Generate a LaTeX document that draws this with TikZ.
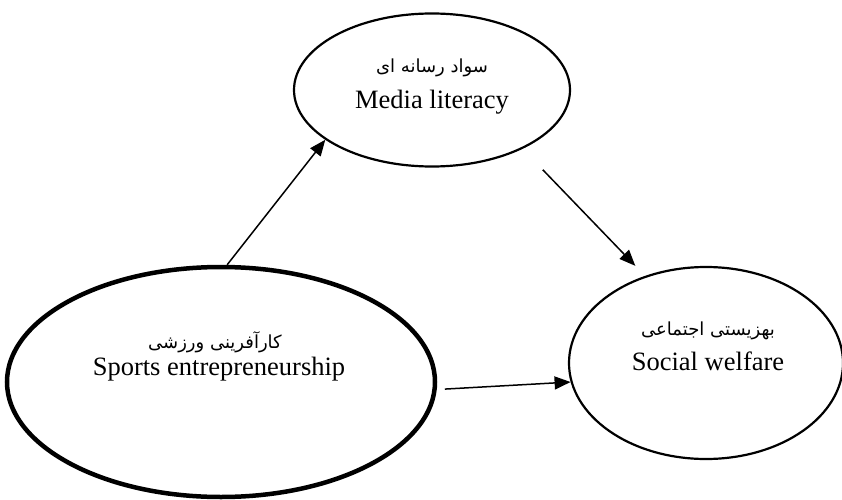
\documentclass[tikz,border=0pt]{standalone}
\usepackage{fontspec}
\setmainfont{Liberation Serif}
\newfontfamily\arabicfont[Script=Arabic]{DejaVu Sans}
\TeXXeTstate=1
\usetikzlibrary{shapes.geometric,arrows.meta}
\begin{document}
\begin{tikzpicture}[x=1pt,y=1pt,
  ell/.style={ellipse, draw, line width=2.2pt, inner sep=0pt},
  eng/.style={font=\fontsize{26.5}{30}\selectfont, anchor=base, inner sep=0pt},
  fa/.style={font=\arabicfont\fontsize{18}{20}\selectfont, anchor=base, inner sep=0pt},
  arr/.style={-{Triangle[length=16pt,width=13pt]}, line width=1.5pt}]
\useasboundingbox (0,0) rectangle (842,499);
% ellipses
\node[ell, minimum width=276pt, minimum height=153pt] (ml) at (432,409) {};
\node[ell, line width=4.5pt, minimum width=428pt, minimum height=230pt] (se) at (221,117) {};
\node[ell, minimum width=274pt, minimum height=192pt] (sw) at (706,136) {};
% texts
\node[fa] (mlfa) at (432,426) {\beginR سواد رسانه ای\endR};
\node[eng] (mlen) at (432,390) {Media literacy};
\node[fa] (sefa) at (215,151) {\beginR کارآفرینی ورزشی\endR};
\node[eng] (seen) at (219,124) {Sports entrepreneurship};
\node[fa] (swfa) at (708,164) {\beginR بهزیستی اجتماعی\endR};
\node[eng] (swen) at (708,129) {Social welfare};
% arrows
\draw[arr] (se.87) -- (ml.205);
\draw[arr, shorten <=29pt, shorten >=14pt] (ml.-33.7) -- (sw.125.4);
\draw[arr, shorten <=8pt] (se.-2) -- (sw.188);
\end{tikzpicture}
\end{document}
